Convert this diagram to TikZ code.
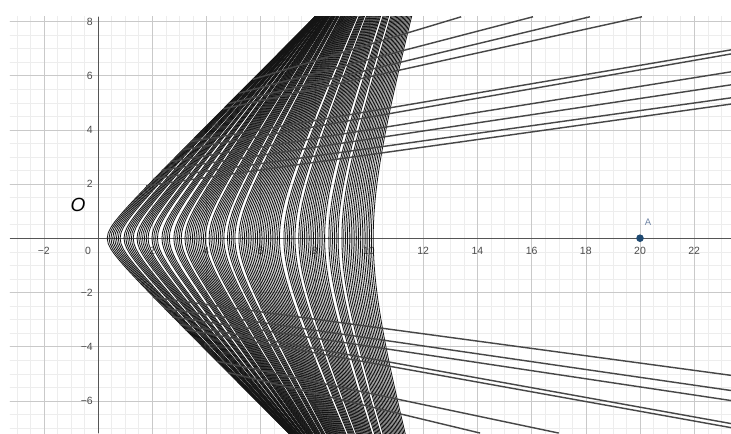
\documentclass[tikz,border=0pt]{standalone}
\usepackage{fontspec}
\setmainfont{Liberation Sans}
\usetikzlibrary{calc}

\definecolor{gridmajor}{HTML}{C9C9C9}
\definecolor{gridminor}{HTML}{EDEDED}
\definecolor{axisgray}{HTML}{555555}
\definecolor{pointblue}{HTML}{1F4A72}
\definecolor{labelblue}{HTML}{7085A5}

\begin{document}
\begin{tikzpicture}[x=1cm, y=1cm,
    every node/.style={font=\fontsize{11}{13}\selectfont},
    ticklabel/.style={text=black!70, inner sep=1pt},
    arccurve/.style={black!92, line width=0.85pt},
    ray/.style={black!72, line width=1.5pt}]

    \useasboundingbox (-3.616,-7.19) rectangle (23.358,8.79);
    \fill[white] (-3.616,-7.19) rectangle (23.358,8.79);

    \begin{scope}
        \clip (-3.25,-7.19) rectangle (23.358,8.17);

        % --- Grid ---
        \draw[gridminor, line width=0.4pt] (-3.5,-7.5) grid[step=0.5] (23.5,8.5);
        \draw[gridmajor, line width=0.5pt] (-4,-8) grid[step=2] (24,10);

        % --- Axes ---
        \draw[axisgray, line width=0.8pt] (-3.25,0) -- (23.358,0);
        \draw[axisgray, line width=0.8pt] (0,-7.19) -- (0,8.17);

        % Tick labels
        \node[ticklabel] (x0) at (-0.37,-0.45) {0};
        \foreach \t/\lab in {-2/{−2},2/2,4/4,6/6,8/8,10/10,12/12,14/14,16/16,18/18,20/20,22/22}
            \node[ticklabel] (x\t) at (\t,-0.45) {\lab};
        \foreach \t/\lab in {8/8,6/6,4/4,2/2,-2/{−2},-4/{−4},-6/{−6}}
            \node[ticklabel, anchor=east] (y\t) at (-0.15,\t) {\lab};

        % --- Family of arcs (vertex v, top end X) ---
        \foreach \lo/\n in {0.34/7, 0.96/5, 1.44/6, 1.99/3, 2.36/4, 2.80/4, 3.21/11,
                            4.10/8, 4.78/4, 5.20/22, 6.86/6, 7.41/14, 8.52/5, 9.00/17}{
            \foreach \j in {0,...,\n}{
                \pgfmathsetmacro\v{\lo+0.068*\j}
                \pgfmathsetmacro\X{8.0+3.6*(\v/10.2)^2}
                \pgfmathsetmacro\A{0.5+0.05*\v}
                \pgfmathsetmacro\K{sqrt((\X-\v+\A)^2-\A^2)/8.17}
                \draw[arccurve] plot[domain=-7.4:8.4, samples=80]
                    ({\v-\A+sqrt(\A*\A+(\x*\K)^2)},\x);
            }
        }

        % --- Rays, upper half ---
        \foreach \xa/\ya/\xb/\yb in {5.71/5.86/13.4/8.17, 5.20/5.35/16.05/8.17,
                                     4.82/4.97/18.15/8.17, 4.62/4.77/20.07/8.17,
                                     3.41/3.56/23.36/6.95, 3.11/3.26/23.36/6.80,
                                     2.68/2.83/23.36/6.14, 2.36/2.51/23.36/5.66,
                                     2.05/2.20/23.36/5.18, 1.78/1.93/23.36/4.95}
            \draw[ray] (\xa,\ya) -- (\xb,\yb);

        % --- Rays, lower half ---
        \foreach \xa/\ya/\xb/\yb in {2.03/-2.18/23.36/-5.06, 2.44/-2.59/23.36/-5.62,
                                     2.75/-2.90/23.36/-5.99, 3.03/-3.18/23.36/-6.84,
                                     3.22/-3.37/23.36/-6.99, 4.39/-4.54/17.0/-7.19,
                                     4.81/-4.96/14.1/-7.19}
            \draw[ray] (\xa,\ya) -- (\xb,\yb);
    \end{scope}

    % --- Origin label and point A ---
    \node[font=\fontsize{20}{24}\selectfont\itshape] (labO) at (-0.74,1.22) {O};
    \fill[pointblue] (20,0) circle (0.14);
    \node[text=labelblue, font=\fontsize{10}{12}\selectfont] (labA) at (20.3,0.6) {A};

\end{tikzpicture}
\end{document}
